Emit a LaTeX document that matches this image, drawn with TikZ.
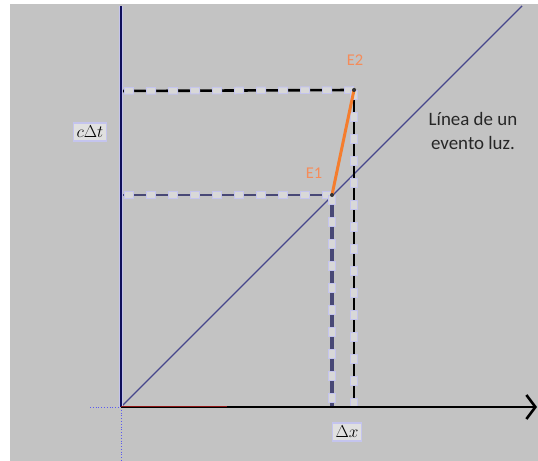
\documentclass[tikz,border=0pt]{standalone}
\usepackage{fontspec}
\newfontfamily\calib{Carlito}
\usetikzlibrary{arrows.meta}
\definecolor{bgc}{RGB}{195,195,195}
\definecolor{boxg}{RGB}{216,216,216}
\definecolor{lblf}{RGB}{224,224,224}
\definecolor{lav}{RGB}{196,196,238}
\definecolor{navy}{RGB}{15,15,90}
\definecolor{slate}{RGB}{72,72,118}
\definecolor{diagc}{RGB}{70,70,140}
\definecolor{orng}{RGB}{245,125,45}
\definecolor{elab}{RGB}{245,140,90}
\definecolor{dred}{RGB}{140,20,20}
\definecolor{dotb}{RGB}{90,90,240}
\tikzset{
  boxed/.style={line width=#1, line cap=butt,
    postaction={draw=lav, line width=7.5bp, dash pattern=on 10bp off 12bp},
    postaction={draw=boxg, line width=5.5bp, dash pattern=on 8bp off 14bp, dash phase=21bp}},
  lbl/.style={draw=lav, fill=lblf, line width=1.5bp, inner xsep=3bp, inner ysep=3bp, font=\fontsize{18.5}{20}\selectfont},
  elbl/.style={text=elab, font=\calib\fontsize{16.5}{18}\selectfont},
  evdot/.style={circle, fill=black!80, inner sep=0pt, minimum size=4bp}
}
\begin{document}
\begin{tikzpicture}[x=1bp,y=1bp]
\useasboundingbox (0,0) rectangle (538,461);
\fill[white] (0,0) rectangle (538,461);
\fill[bgc] (10,0) rectangle (538,457);
% coordinates
\coordinate (O) at (121,54);
\coordinate (Ytop) at (121,455);
\coordinate (Xend) at (537,54);
\coordinate (Dend) at (522,455);
\coordinate (Rend) at (227,54);
\coordinate (Lft) at (90,54);
\coordinate (Bot) at (121,0);
\coordinate (H1) at (122,266);
\coordinate (H2) at (122,370);
\coordinate (V1) at (332,54);
\coordinate (V2) at (354,54);
% dotted extensions
\draw[dotb, dotted, line width=0.8bp] (Lft) -- (O);
\draw[dotb, dotted, line width=0.8bp] (O) -- (Bot);
% light line
\draw[diagc, line width=1.4bp] (O) -- (Dend);
% dashed projections
\node[evdot] (E1) at (332,266) {};
\node[evdot] (E2) at (354,371) {};
\draw[boxed=2.8bp, slate] (E1.center) -- (H1);
\draw[boxed=4bp, slate] (E1.center) -- (V1);
\draw[boxed=2.6bp, black] (E2.center) -- (H2);
\draw[boxed=2.6bp, black] (E2.center) -- (V2);
% axes
\draw[lav, line width=4.5bp] (O) -- (Ytop);
\draw[navy, line width=2.2bp] (O) -- (Ytop);
\draw[black, line width=2.6bp, -{Straight Barb[length=9bp, width=24bp]}] (O) -- (Xend);
\draw[dred, line width=1.4bp] ([yshift=0.6bp]O) -- ([yshift=0.6bp]Rend);
% world line segment
\draw[orng, line width=3bp] (E1.center) -- (E2.center);
\node[evdot] at (E1) {};
\node[evdot] at (E2) {};
% labels
\node[elbl] (L2) at (355,401) {E2};
\node[elbl] (L1) at (314,288) {E1};
\node[lbl] (ct) at (90,329) {$c\Delta t$};
\node[lbl] (dx) at (347,29) {$\Delta x$};
\node[font=\calib\fontsize{19}{24.5}\selectfont, align=center, text=black!85] (luz) at (473,330) {Línea de un\\evento luz.};
\end{tikzpicture}
\end{document}
